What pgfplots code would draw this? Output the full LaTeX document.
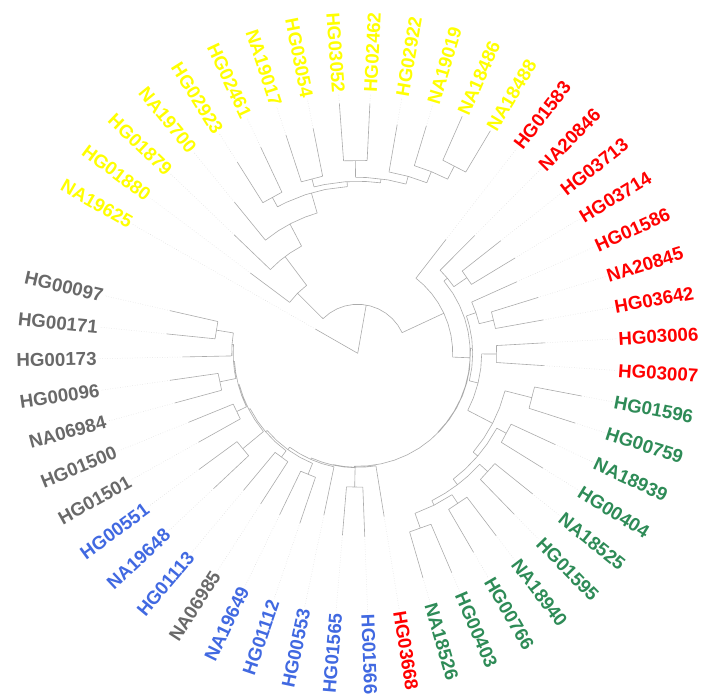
\documentclass[border=0pt]{standalone}
\usepackage{pgfplots}
\pgfplotsset{compat=1.18}
\usepackage{fontspec}
\setmainfont{Liberation Sans}

\definecolor{branch}{HTML}{ABABAB}
\definecolor{leader}{HTML}{D9D9D9}
\definecolor{grpYellow}{HTML}{FFFF00}
\definecolor{grpRed}{HTML}{FF0000}
\definecolor{grpGreen}{HTML}{2E8B57}
\definecolor{grpBlue}{HTML}{4169E1}
\definecolor{grpGray}{HTML}{696969}

\pgfplotsset{
  tiplabel/.style={
    only marks, mark=*, mark size=0pt, mark options={draw=none,fill=none},
    data cs=polar, point meta=explicit symbolic,
    visualization depends on={value \thisrow{rot} \as \labrot},
    visualization depends on={value \thisrow{anc} \as \labanc},
    nodes near coords,
    nodes near coords style={rotate=\labrot, anchor=\labanc, inner sep=2pt,
      font=\bfseries\fontsize{18.7}{20}\selectfont, text=#1},
  },
}

\begin{document}
\begin{tikzpicture}
\begin{axis}[
  scale only axis, width=704pt, height=700pt,
  xmin=-357.7, xmax=346.3, ymin=-346.7, ymax=353.3,
  hide axis, clip=false,
]
\coordinate (frameSW) at (rel axis cs:0,0);
\coordinate (frameNE) at (rel axis cs:1,1);

% dotted leaders from each tip to the label ring (angle, radius)
\addplot[leader, line width=0.5pt, dotted, data cs=polar, empty line=jump] table[x=a, y=r] {
a r
167.2 192.5
167.2 259

174.2 192
174.2 259

181.2 175
181.2 259

188.2 189.6
188.2 259

195.2 189.4
195.2 259

202.2 182.7
202.2 259

209.2 182.3
209.2 259

216.2 196.6
216.2 259

223.2 197.7
223.2 259

230.2 178.3
230.2 259

237.2 179
237.2 259

244.2 179.4
244.2 259

251.2 179.5
251.2 259

258.2 165.3
258.2 259

265.2 182.4
265.2 259

272.2 183.5
272.2 259

279.2 165.4
279.2 259

286.2 233.9
286.2 259

293.2 238.6
293.2 259

300.2 230.2
300.2 259

307.2 229
307.2 259

314.2 224.4
314.2 259

321.2 224.4
321.2 259

328.2 217.9
328.2 259

335.2 217.6
335.2 259

342.2 228.3
342.2 259

349.2 228
349.2 259

356.2 187
356.2 259

363.2 187.6
363.2 259

370.2 188.6
370.2 259

377.2 188.8
377.2 259

384.2 174.4
384.2 259

391.2 183.8
391.2 259

398.2 181.9
398.2 259

405.2 166
405.2 259

412.2 144
412.2 259

433.2 237.4
433.2 259

440.2 231.9
440.2 259

447.2 250
447.2 259

454.2 250.6
454.2 259

461.2 229.3
461.2 259

468.2 229.6
468.2 259

475.2 227.8
475.2 259

482.2 225.8
482.2 259

489.2 195
489.2 259

496.2 171
496.2 259

503.2 134
503.2 259

510.2 48.6
510.2 259
};

% branches: radial pieces and arcs, (angle, radius)
\addplot[branch, line width=0.6pt, data cs=polar, empty line=jump] table[x=a, y=r] {
a r
510.2 0
510.2 48.6

440 0
440 49

384.95 49
395 49
405 49
415 49
425 49
435 49
445 49
455 49
465 49
475 49
485 49
495.07 49

495.07 49
495.07 85

486.93 85
495 85
503.2 85

503.2 85
503.2 134

486.93 85
486.93 121

477.66 121
484 121
490 121
496.2 121

496.2 121
496.2 171

477.66 121
477.66 146

466.12 146
471 146
477 146
483 146
489.2 146

489.2 146
489.2 195

466.12 146
466.12 167

453.54 167
461.2 167
468.2 167
475.2 167
478.7 167

478.7 167
478.7 178

475.2 178
482.2 178

482.2 178
482.2 225.8

475.2 178
475.2 227.8

453.54 167
453.54 172

442.39 172
447.2 172
454.2 172
461.2 172
464.7 172

464.7 172
464.7 180.5

461.2 180.5
468.2 180.5

468.2 180.5
468.2 229.6

461.2 180.5
461.2 229.3

442.39 172
442.39 176

434.075 176
440.2 176
447.2 176
450.7 176

450.7 176
450.7 193

447.2 193
454.2 193

454.2 193
454.2 250.6

447.2 193
447.2 250

434.075 176
434.075 184

427.95 184
434 184
440.2 184

440.2 184
440.2 231.9

427.95 184
427.95 196

422.7 196
428 196
433.2 196

433.2 196
433.2 237.4

422.7 196
422.7 211

419.2 211
426.2 211

426.2 211
426.2 259

419.2 211
419.2 259

384.95 49
384.95 95

357.7 95
364 95
371 95
378 95
385 95
392 95
399 95
406 95
412.2 95

412.2 95
412.2 144

357.7 95
357.7 112.5

315.4 112.5
322 112.5
329 112.5
336 112.5
343 112.5
350 112.5
357 112.5
364 112.5
371 112.5
378 112.5
385 112.5
392 112.5
399.95 112.5

399.95 112.5
399.95 117

394.7 117
400 117
405.2 117

405.2 117
405.2 166

394.7 117
394.7 133

391.2 133
398.2 133

391.2 133
391.2 183.8

398.2 133
398.2 181.9

315.4 112.5
315.4 113

268.31 113
275 113
282 113
289 113
296 113
303 113
310 113
317 113
324 113
331 113
338 113
345 113
352 113
362.55 113

362.55 113
362.55 115

346.15 115
353 115
360 115
367 115
374 115
378.95 115

378.95 115
378.95 125

373.7 125
379 125
384.2 125

384.2 125
384.2 174.4

373.7 125
373.7 140

370.2 140
377.2 140

377.2 140
377.2 188.8

370.2 140
370.2 188.6

346.15 115
346.15 124

332.575 124
339 124
346.15 124
353 124
359.7 124

359.7 124
359.7 139

356.2 139
363.2 139

363.2 139
363.2 187.6

356.2 139
356.2 187

332.575 124
332.575 152

319.45 152
326 152
332.6 152
339 152
345.7 152

345.7 152
345.7 180

342.2 180
349.2 180

349.2 180
349.2 228

342.2 180
342.2 228.3

319.45 152
319.45 158

307.2 158
313 158
319.45 158
325 158
331.7 158

331.7 158
331.7 169

328.2 169
335.2 169

335.2 169
335.2 217.6

328.2 169
328.2 217.9

307.2 158
307.2 165

296.7 165
302 165
307.2 165
312 165
317.7 165

317.7 165
317.7 176

314.2 176
321.2 176

321.2 176
321.2 224.4

314.2 176
314.2 224.4

296.7 165
296.7 170

289.7 170
296.7 170
303.7 170

303.7 170
303.7 180.7

300.2 180.7
307.2 180.7

307.2 180.7
307.2 229

300.2 180.7
300.2 230.2

289.7 170
289.7 186

286.2 186
293.2 186

293.2 186
293.2 238.6

286.2 186
286.2 233.9

268.31 113
268.31 114

257.42 114
263 114
268.31 114
274 114
279.2 114

279.2 114
279.2 165.4

257.42 114
257.42 114.5

246.14 114.5
252 114.5
257.42 114.5
263 114.5
268.7 114.5

268.7 114.5
268.7 134

265.2 134
272.2 134

265.2 134
265.2 182.4

272.2 134
272.2 183.5

246.14 114.5
246.14 116

234.08 116
240 116
246.14 116
252 116
258.2 116

258.2 116
258.2 165.3

234.08 116
234.08 119

220.47 119
227 119
234.08 119
241 119
247.7 119

247.7 119
247.7 131

244.2 131
251.2 131

244.2 131
244.2 179.4

251.2 131
251.2 179.5

220.47 119
220.47 121

207.23 121
214 121
220.47 121
227 121
233.7 121

233.7 121
233.7 129

230.2 129
237.2 129

230.2 129
230.2 178.3

237.2 129
237.2 179

207.23 121
207.23 122.5

194.76 122.5
201 122.5
207.23 122.5
213 122.5
219.7 122.5

219.7 122.5
219.7 149.6

216.2 149.6
223.2 149.6

216.2 149.6
216.2 196.6

223.2 149.6
223.2 197.7

194.76 122.5
194.76 123.5

183.825 123.5
189 123.5
194.76 123.5
200 123.5
205.7 123.5

205.7 123.5
205.7 134.5

202.2 134.5
209.2 134.5

202.2 134.5
202.2 182.7

209.2 134.5
209.2 182.3

183.825 123.5
183.825 124.5

175.95 124.5
180 124.5
183.825 124.5
188 124.5
191.7 124.5

191.7 124.5
191.7 141

188.2 141
195.2 141

188.2 141
188.2 189.6

195.2 141
195.2 189.4

175.95 124.5
175.95 126

170.7 126
176 126
181.2 126

181.2 126
181.2 175

170.7 126
170.7 143.4

167.2 143.4
174.2 143.4

167.2 143.4
167.2 192.5

174.2 143.4
174.2 192
};

% tip labels, one plot per population colour
\addplot[tiplabel=grpYellow] table[x=a, y=r, meta=lab] {
a r rot anc lab
419.2 259 59.2 west NA18488
426.2 259 66.2 west NA18486
433.2 259 73.2 west NA19019
440.2 259 80.2 west HG02922
447.2 259 87.2 west HG02462
454.2 259 -85.8 east HG03052
461.2 259 -78.8 east HG03054
468.2 259 -71.8 east NA19017
475.2 259 -64.8 east HG02461
482.2 259 -57.8 east HG02923
489.2 259 -50.8 east NA19700
496.2 259 -43.8 east HG01879
503.2 259 -36.8 east HG01880
510.2 259 -29.8 east NA19625
};

\addplot[tiplabel=grpRed] table[x=a, y=r, meta=lab] {
a r rot anc lab
279.2 259 -80.8 west HG03668
356.2 259 -3.8 west HG03007
363.2 259 3.2 west HG03006
370.2 259 10.2 west HG03642
377.2 259 17.2 west NA20845
384.2 259 24.2 west HG01586
391.2 259 31.2 west HG03714
398.2 259 38.2 west HG03713
405.2 259 45.2 west NA20846
412.2 259 52.2 west HG01583
};

\addplot[tiplabel=grpGreen] table[x=a, y=r, meta=lab] {
a r rot anc lab
286.2 259 -73.8 west NA18526
293.2 259 -66.8 west HG00403
300.2 259 -59.8 west HG00766
307.2 259 -52.8 west NA18940
314.2 259 -45.8 west HG01595
321.2 259 -38.8 west NA18525
328.2 259 -31.8 west HG00404
335.2 259 -24.8 west NA18939
342.2 259 -17.8 west HG00759
349.2 259 -10.8 west HG01596
};

\addplot[tiplabel=grpBlue] table[x=a, y=r, meta=lab] {
a r rot anc lab
216.2 259 36.2 east HG00551
223.2 259 43.2 east NA19648
230.2 259 50.2 east HG01113
244.2 259 64.2 east NA19649
251.2 259 71.2 east HG01112
258.2 259 78.2 east HG00553
265.2 259 85.2 east HG01565
272.2 259 -87.8 west HG01566
};

\addplot[tiplabel=grpGray] table[x=a, y=r, meta=lab] {
a r rot anc lab
167.2 259 -12.8 east HG00097
174.2 259 -5.8 east HG00171
181.2 259 1.2 east HG00173
188.2 259 8.2 east HG00096
195.2 259 15.2 east NA06984
202.2 259 22.2 east HG01500
209.2 259 29.2 east HG01501
237.2 259 57.2 east NA06985
};

\end{axis}
\pgfresetboundingbox
\useasboundingbox (frameSW) rectangle (frameNE);
\end{tikzpicture}
\end{document}
